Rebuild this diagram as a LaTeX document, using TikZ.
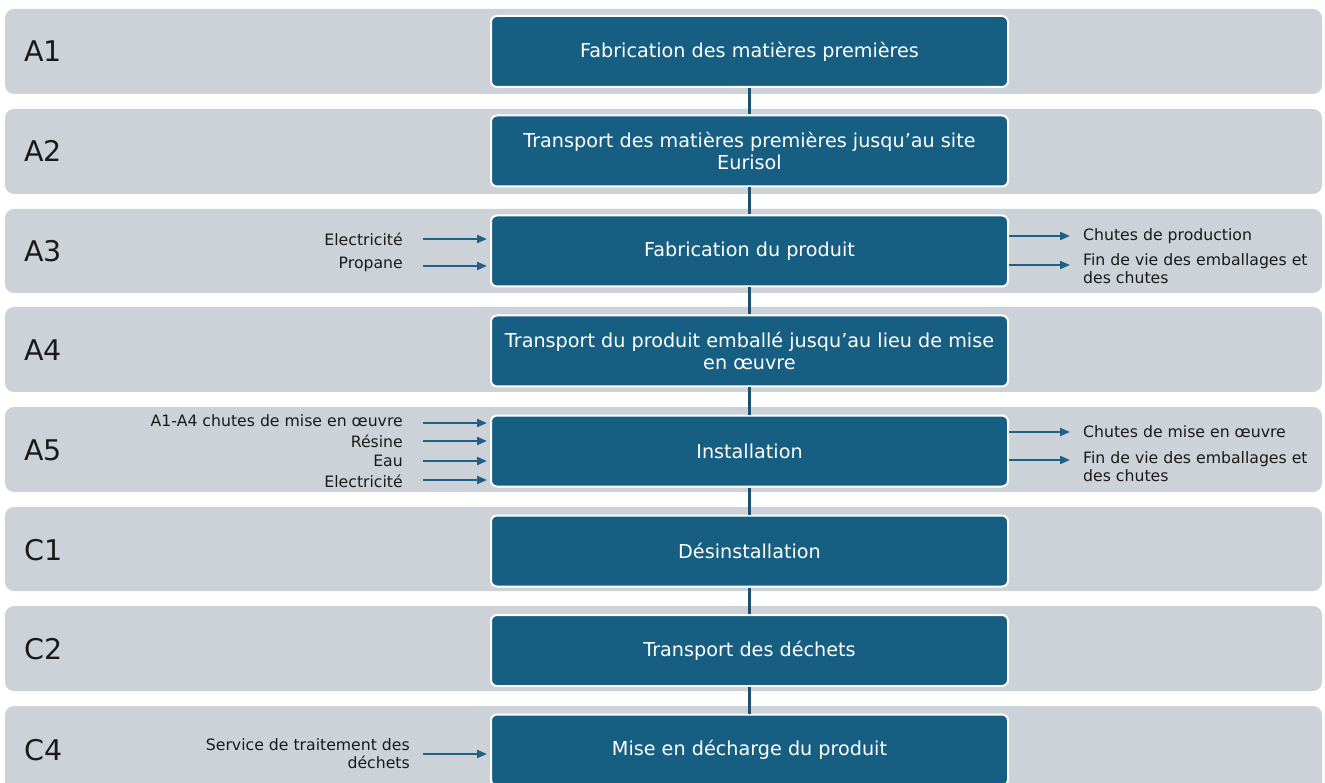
\documentclass[tikz,border=0pt]{standalone}
\usepackage{fontspec}
\setmainfont{DejaVu Sans}
\usetikzlibrary{arrows.meta}
\definecolor{bandc}{RGB}{205,210,217}
\definecolor{boxc}{RGB}{22,95,130}
\definecolor{linec}{RGB}{28,80,112}
\definecolor{arrc}{RGB}{30,96,134}
\definecolor{txt}{RGB}{26,26,26}
\begin{document}
\begin{tikzpicture}[x=1pt,y=-1pt,
  band/.style={fill=bandc, rounded corners=9pt},
  stage/.style={draw=white, line width=2pt, fill=boxc, rounded corners=6pt,
    minimum width=517pt, minimum height=71pt, text=white,
    font=\fontsize{19.2}{22}\selectfont, align=center, inner sep=0pt},
  lab/.style={font=\fontsize{28.5}{30}\selectfont, text=txt, anchor=west, inner sep=0pt},
  inl/.style={font=\fontsize{15.7}{18}\selectfont, text=txt, anchor=east, align=right, inner sep=0pt},
  outl/.style={font=\fontsize{15.7}{18}\selectfont, text=txt, anchor=west, align=left, inner sep=0pt},
  flow/.style={-{Triangle[length=10pt,width=8pt]}, draw=arrc, line width=2pt},
  link/.style={draw=linec, line width=3pt}]
\useasboundingbox (0,0) rectangle (1325,783);
\clip (0,0) rectangle (1325,783);
\fill[white] (0,0) rectangle (1325,783);
% bands
\path[band] (5,9) rectangle (1322,94);
\path[band] (5,109) rectangle (1322,194);
\path[band] (5,209) rectangle (1322,293);
\path[band] (5,307) rectangle (1322,392);
\path[band] (5,407) rectangle (1322,492);
\path[band] (5,507) rectangle (1322,591);
\path[band] (5,606) rectangle (1322,691);
\path[band] (5,706) rectangle (1322,800);
% band labels
\node[lab] (lA1) at (24,51) {A1};
\node[lab] (lA2) at (24,151) {A2};
\node[lab] (lA3) at (24,251) {A3};
\node[lab] (lA4) at (24,350) {A4};
\node[lab] (lA5) at (24,450) {A5};
\node[lab] (lC1) at (24,550) {C1};
\node[lab] (lC2) at (24,649) {C2};
\node[lab] (lC4) at (24,750) {C4};
% stage boxes
\node[stage] (a1) at (749.5,51.5) {Fabrication des matières premières};
\node[stage] (a2) at (749.5,151) {Transport des matières premières jusqu’au site\\Eurisol};
\node[stage] (a3) at (749.5,251) {Fabrication du produit};
\node[stage] (a4) at (749.5,351) {Transport du produit emballé jusqu’au lieu de mise\\en œuvre};
\node[stage] (a5) at (749.5,451) {Installation};
\node[stage] (c1) at (749.5,551) {Désinstallation};
\node[stage] (c2) at (749.5,650.5) {Transport des déchets};
\node[stage] (c4) at (749.5,750) {Mise en décharge du produit};
% links
\draw[link] (a1.south) -- (a2.north);
\draw[link] (a2.south) -- (a3.north);
\draw[link] (a3.south) -- (a4.north);
\draw[link] (a4.south) -- (a5.north);
\draw[link] (a5.south) -- (c1.north);
\draw[link] (c1.south) -- (c2.north);
\draw[link] (c2.south) -- (c4.north);
% A3 inputs
\node[inl] (e3a) at (403,239) {Electricité};
\node[inl] (e3b) at (403,264) {Propane};
\coordinate (i3a) at (423,239);
\coordinate (i3b) at (423,266);
\draw[flow, shorten >=3pt] (i3a) -- (a3.west |- i3a);
\draw[flow, shorten >=3pt] (i3b) -- (a3.west |- i3b);
% A3 outputs
\node[outl] (o3a) at (1083,236) {Chutes de production};
\node[outl] (o3b) at (1083,268.5) {Fin de vie des emballages et\\des chutes};
\coordinate (p3a) at (1070,236);
\coordinate (p3b) at (1070,265);
\draw[flow] (a3.east |- p3a) -- (p3a);
\draw[flow] (a3.east |- p3b) -- (p3b);
% A5 inputs
\node[inl] (e5a) at (403,421) {A1-A4 chutes de mise en œuvre};
\node[inl] (e5b) at (403,441) {Résine};
\node[inl] (e5c) at (403,461) {Eau};
\node[inl] (e5d) at (403,481) {Electricité};
\coordinate (i5a) at (423,423);
\coordinate (i5b) at (423,441);
\coordinate (i5c) at (423,461);
\coordinate (i5d) at (423,480);
\draw[flow, shorten >=3pt] (i5a) -- (a5.west |- i5a);
\draw[flow, shorten >=3pt] (i5b) -- (a5.west |- i5b);
\draw[flow, shorten >=3pt] (i5c) -- (a5.west |- i5c);
\draw[flow, shorten >=3pt] (i5d) -- (a5.west |- i5d);
% A5 outputs
\node[outl] (o5a) at (1083,432) {Chutes de mise en œuvre};
\node[outl] (o5b) at (1083,466.5) {Fin de vie des emballages et\\des chutes};
\coordinate (p5a) at (1070,432);
\coordinate (p5b) at (1070,460);
\draw[flow] (a5.east |- p5a) -- (p5a);
\draw[flow] (a5.east |- p5b) -- (p5b);
% C4 input
\node[inl] (e4a) at (410,754) {Service de traitement des\\déchets};
\coordinate (i4a) at (423,754);
\draw[flow, shorten >=3pt] (i4a) -- (c4.west |- i4a);
\end{tikzpicture}
\end{document}
